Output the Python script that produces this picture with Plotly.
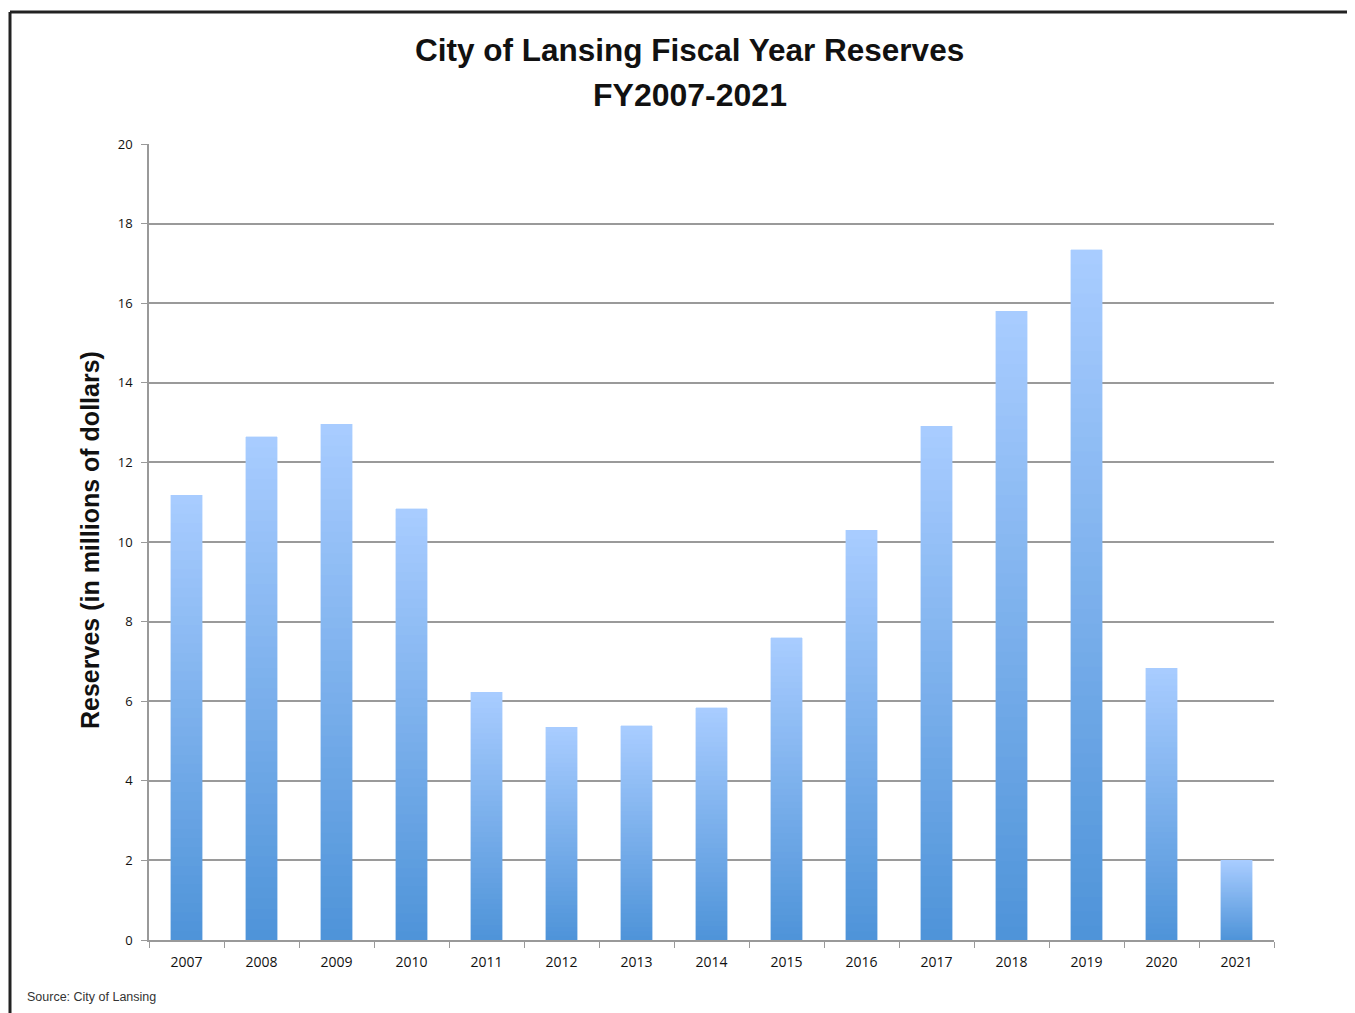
import plotly.graph_objects as go

years = ["2007", "2008", "2009", "2010", "2011", "2012", "2013", "2014",
         "2015", "2016", "2017", "2018", "2019", "2020", "2021"]
reserves = [11.18, 12.64, 12.96, 10.83, 6.23, 5.35, 5.38, 5.83,
            7.59, 10.30, 12.91, 15.80, 17.34, 6.83, 2.01]
y_ticks = [0, 2, 4, 6, 8, 10, 12, 14, 16, 18, 20]

TITLE_1 = "City of Lansing Fiscal Year Reserves"
TITLE_2 = "FY2007-2021"
Y_TITLE = "Reserves (in millions of dollars)"
SOURCE = "Source: City of Lansing"

# gradient colours (bottom -> top of each bar)
c_bot = (79, 148, 217)
c_top = (168, 204, 255)
N = 48

OFF = 8  # page body margin
W, H = 1355, 1013
L, T = 149 - OFF, 144 - OFF
pw, ph = 1125, 796
R, B = W - L - pw, H - T - ph

fig = go.Figure()
for k in range(N):
    f = k / (N - 1)
    col = "rgb(%d,%d,%d)" % tuple(round(c_bot[i] + (c_top[i] - c_bot[i]) * f) for i in range(3))
    fig.add_trace(go.Bar(
        x=years,
        y=[v / N for v in reserves],
        marker=dict(color=col, line=dict(width=0.4, color=col)),
        showlegend=False,
        hoverinfo="skip",
    ))

bold_font = "Liberation Sans, Arial, sans-serif"


def px_x(page_px):
    return (page_px - OFF - L) / pw


def px_y(page_py):
    return (H - B - (page_py - OFF)) / ph


fig.update_layout(
    width=W, height=H,
    margin=dict(l=L, r=R, t=T, b=B),
    paper_bgcolor="white",
    plot_bgcolor="white",
    barmode="stack",
    bargap=0.585,
    xaxis=dict(
        type="category",
        showgrid=False,
        showline=True, linecolor="#999999", linewidth=1.5,
        ticks="outside", tickson="boundaries", ticklen=6, tickcolor="#999999",
        ticklabelstandoff=8,
        tickfont=dict(family="Open Sans, sans-serif", size=14, color="#111111"),
        fixedrange=True,
    ),
    yaxis=dict(
        range=[0, 20],
        tickvals=y_ticks,
        ticktext=[str(t) for t in y_ticks],
        showgrid=True, gridcolor="#9a9a9a", gridwidth=1.5,
        showline=True, linecolor="#999999", linewidth=1.5,
        ticks="outside", ticklen=6, tickcolor="#999999",
        ticklabelstandoff=6,
        tickfont=dict(family="Open Sans, sans-serif", size=13, color="#111111"),
        zeroline=False,
        fixedrange=True,
    ),
)

# titles
fig.add_annotation(text="<b>" + TITLE_1 + "</b>", xref="paper", yref="paper",
                   x=px_x(689), y=px_y(50), xanchor="center", yanchor="middle",
                   showarrow=False, font=dict(family=bold_font, size=31.5, color="#111111"))
fig.add_annotation(text="<b>" + TITLE_2 + "</b>", xref="paper", yref="paper",
                   x=px_x(690), y=px_y(95), xanchor="center", yanchor="middle",
                   showarrow=False, font=dict(family=bold_font, size=32, color="#111111"))
fig.add_annotation(text="<b>" + Y_TITLE + "</b>", xref="paper", yref="paper",
                   x=px_x(90), y=px_y(540), xanchor="center", yanchor="middle",
                   textangle=-90, showarrow=False,
                   font=dict(family=bold_font, size=25, color="#111111"))

# outer frame (top and left dark borders)
fig.add_shape(type="line", xref="paper", yref="paper",
              x0=px_x(10), x1=px_x(1370), y0=px_y(12), y1=px_y(12),
              line=dict(color="#222222", width=3))
fig.add_shape(type="line", xref="paper", yref="paper",
              x0=px_x(10), x1=px_x(10), y0=px_y(12), y1=px_y(1030),
              line=dict(color="#222222", width=3))

fig.add_annotation(
    text=SOURCE, xref="paper", yref="paper",
    x=px_x(25), y=px_y(997), xanchor="left", yanchor="middle",
    showarrow=False,
    font=dict(family="Liberation Sans, Arial, sans-serif", size=12.5, color="#333333"),
)

fig.write_html("out.html")
